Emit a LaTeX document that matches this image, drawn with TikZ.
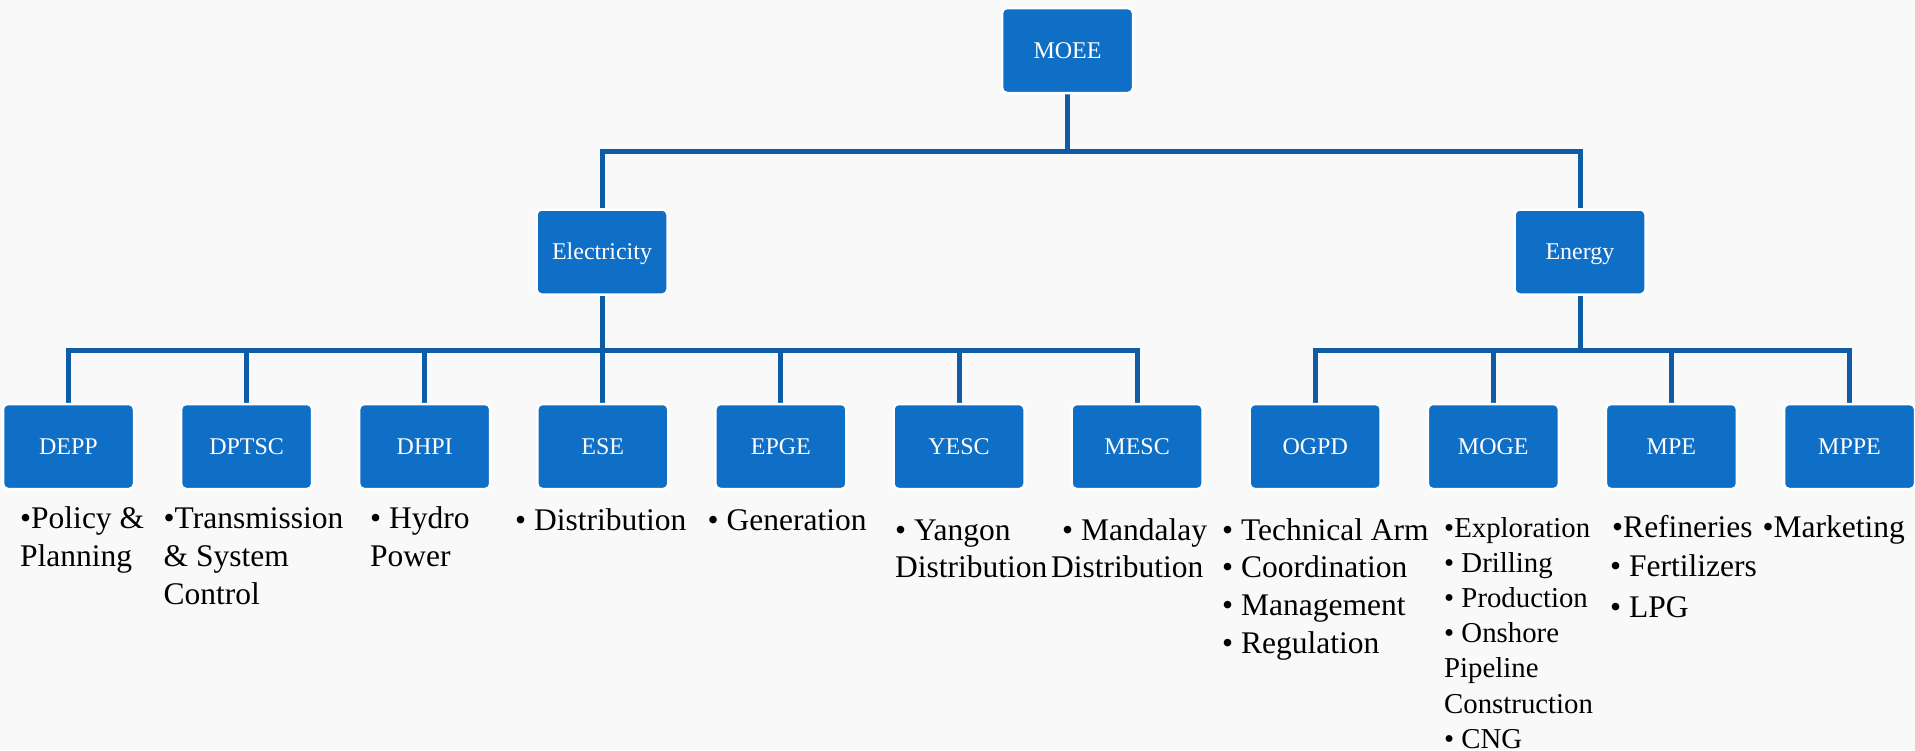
\documentclass[tikz,border=0pt]{standalone}
\usepackage{fontspec}
\setmainfont{Liberation Serif}
\definecolor{boxblue}{HTML}{0F6FC6}
\definecolor{linkblue}{HTML}{0F5CA6}
\definecolor{bggray}{HTML}{F9F9F9}
\pgfdeclarelayer{bg}
\pgfsetlayers{bg,main}
\tikzset{
  unit box/.style={draw=white, line width=2.5pt, fill=boxblue, rounded corners=5pt,
    minimum width=131pt, minimum height=85pt, inner sep=0pt, text=white,
    font=\fontsize{24}{28}\selectfont, text height=15.7pt, text depth=0pt},
  link/.style={draw=linkblue, line width=5pt},
  item/.style={anchor=base west, inner sep=0pt, font=\fontsize{31.5}{38}\selectfont},
  smallitem/.style={anchor=base west, inner sep=0pt, font=\fontsize{28.8}{35}\selectfont},
}
\newcommand\itemlines[6]{% name, style, x, y, step, list
  \foreach \ln [count=\i] in {#6} {\node[#2] (#1-\i) at (#3, {#4+#5*(\i-1)}) {\ln};}}
\begin{document}
\begin{tikzpicture}[x=1pt,y=-1pt]
\useasboundingbox (0,0) rectangle (1915,750);
% boxes
\node[unit box] (moee) at (1067.5,50.5) {MOEE};
\node[unit box] (elec) at (602,252) {Electricity};
\node[unit box] (energy) at (1580,252) {Energy};
\node[unit box] (depp)  at (68.5,446.5)  {DEPP};
\node[unit box] (dptsc) at (246.6,446.5) {DPTSC};
\node[unit box] (dhpi)  at (424.7,446.5) {DHPI};
\node[unit box] (ese)   at (602.8,446.5) {ESE};
\node[unit box] (epge)  at (780.9,446.5) {EPGE};
\node[unit box] (yesc)  at (959,446.5)   {YESC};
\node[unit box] (mesc)  at (1137.1,446.5) {MESC};
\node[unit box] (ogpd)  at (1315.2,446.5) {OGPD};
\node[unit box] (moge)  at (1493.3,446.5) {MOGE};
\node[unit box] (mpe)   at (1671.4,446.5) {MPE};
\node[unit box] (mppe)  at (1849.5,446.5) {MPPE};
\coordinate (bar1) at (0,151.5);
\coordinate (bar2) at (0,350);
\begin{pgfonlayer}{bg}
  \fill[bggray] (0,0) rectangle (1915,750);
  % level 1
  \draw[link] (moee.south) -- (moee.south |- bar1);
  \draw[link] (elec.north) |- (energy.north |- bar1) -- (energy.north);
  % electricity children
  \draw[link] (elec.south) -- (elec.south |- bar2);
  \draw[link] (depp.north) |- (mesc.north |- bar2) -- (mesc.north);
  \foreach \n in {dptsc,dhpi,ese,epge,yesc}
    \draw[link] (\n.north) -- (\n.north |- bar2);
  % energy children
  \draw[link] (energy.south) -- (energy.south |- bar2);
  \draw[link] (ogpd.north) |- (mppe.north |- bar2) -- (mppe.north);
  \foreach \n in {moge,mpe}
    \draw[link] (\n.north) -- (\n.north |- bar2);
\end{pgfonlayer}
% item texts
\itemlines{deppt}{item}{20}{528}{38}{{•Policy \&},{Planning}}
\itemlines{dptsct}{item}{163.5}{528}{38}{{•Transmission},{\& System},{Control}}
\itemlines{dhpit}{item}{370}{528}{38}{{• Hydro},{Power}}
\itemlines{eset}{item}{515}{530}{38}{{• Distribution}}
\itemlines{epget}{item}{707.5}{530}{38}{{• Generation}}
\itemlines{yesct}{item}{895}{540}{37.8}{{• Yangon},{Distribution}}
\node[item] (mesct-1) at (1062,540) {• Mandalay};
\node[item] (mesct-2) at (1051,577.8) {Distribution};
\itemlines{ogpdt}{item}{1222}{540}{37.8}{{• Technical Arm},{• Coordination},{• Management},{• Regulation}}
\itemlines{moget}{smallitem}{1444}{537}{35.2}{{•Exploration},{• Drilling},{• Production},{• Onshore},{Pipeline},{Construction},{• CNG}}
\node[item] (mpet-1) at (1612,537) {•Refineries};
\itemlines{mpet2}{item}{1610}{576}{41}{{• Fertilizers},{• LPG}}
\itemlines{mppet}{item}{1762.5}{537}{38}{{•Marketing}}
\end{tikzpicture}
\end{document}
